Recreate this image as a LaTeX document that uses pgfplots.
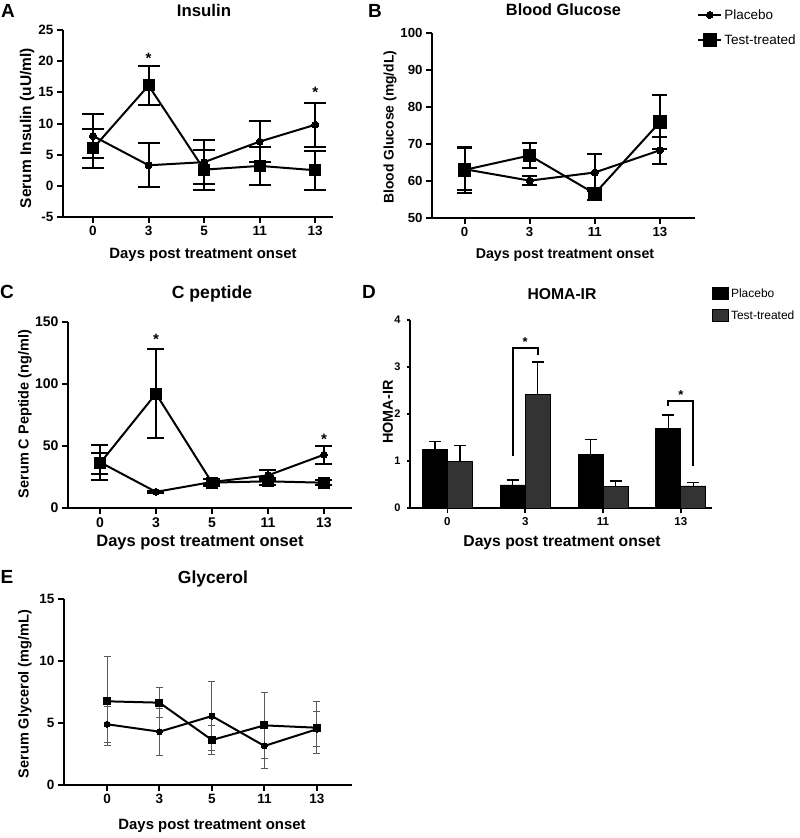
\documentclass[border=0pt]{standalone}
\usepackage{pgfplots}
\pgfplotsset{compat=1.18}
\usepackage{fontspec}
\setmainfont{Liberation Sans}
\newcommand{\fs}[1]{\fontsize{#1}{#1}\selectfont}
\pgfplotsset{
 gp/.style={
   scale only axis, clip=false,
   axis lines*=left,
   axis line style={line width=2pt},
   every tick/.style={line width=2pt, black},
   tick align=outside, major tick length=6pt,
   /pgf/number format/assume math mode=true,
   xtick={0,...,4},
   title style={anchor=center},
   xlabel style={anchor=center},
   ylabel style={anchor=center},
 },
 pl/.style={black, line width=2pt, mark=*, mark size=3.5pt, mark options={solid,fill=black,line width=0pt}},
 ts/.style={black, line width=2pt, mark=square*, mark size=5.5pt, mark options={solid,fill=black,line width=0pt}},
 eb/.style={error bars/.cd, y dir=both, y explicit, error bar style={line width=2pt, black}, error mark options={rotate=90, line width=2pt, black, mark size=#1}},
}
\begin{document}
\begin{tikzpicture}
% ---------------- A: Insulin
\begin{axis}[gp, at={(63pt,-217pt)}, anchor=south west, width=270pt, height=187pt,
 xmin=-0.54, xmax=4.32, ymin=-5, ymax=25, ytick={-5,0,5,10,15,20,25},
 xticklabels={0,3,5,11,13},
 tick label style={font=\fs{13.5}\bfseries},
 title={Insulin}, title style={font=\fs{16.8}\bfseries, at={([xshift=6pt,yshift=14pt]axis description cs:0.5,1)}},
 xlabel={Days post treatment onset}, xlabel style={font=\fs{14.9}\bfseries, at={([xshift=5pt,yshift=-38pt]axis description cs:0.5,0)}},
 ylabel={Serum Insulin (uU/ml)}, ylabel style={font=\fs{15.5}\bfseries, at={([xshift=-36pt,yshift=-4.5pt]axis description cs:0,0.5)}}]
\addplot[pl, eb=11pt] coordinates {(0,8.0) +- (0,3.5) (1,3.3) +- (0,3.5) (2,3.8) +- (0,3.5) (3,7.1) +- (0,3.3) (4,9.8) +- (0,3.5)};
\addplot[ts, eb=11pt] coordinates {(0,6.0) +- (0,3.1) (1,16.1) +- (0,3.1) (2,2.6) +- (0,3.2) (3,3.2) +- (0,3.1) (4,2.5) +- (0,3.1)};
\node[anchor=north, inner sep=0pt, font=\fs{15}\bfseries] at (axis cs:1,21.3) {*};
\node[anchor=north, inner sep=0pt, font=\fs{15}\bfseries] at (axis cs:4,15.9) {*};
\end{axis}
% ---------------- B: Blood glucose
\begin{axis}[gp, at={(432pt,-218pt)}, anchor=south west, width=263pt, height=185pt,
 xmin=-0.5, xmax=3.54, ymin=50, ymax=100, ytick={50,60,70,80,90,100},
 xtick={0,1,2,3}, xticklabels={0,3,11,13},
 tick label style={font=\fs{13.2}\bfseries},
 title={Blood Glucose}, title style={font=\fs{16.3}\bfseries, at={([yshift=17pt]axis description cs:0.5,1)}},
 xlabel={Days post treatment onset}, xlabel style={font=\fs{14.2}\bfseries, at={([xshift=1.5pt,yshift=-37pt]axis description cs:0.5,0)}},
 ylabel={Blood Glucose (mg/dL)}, ylabel style={font=\fs{13.9}\bfseries, at={([xshift=-42pt,yshift=-1.5pt]axis description cs:0,0.5)}},
 legend style={at={(1.008,1.14)}, anchor=north west, draw=none, fill=none, font=\fs{13.5}, inner sep=0pt, row sep=10pt, /tikz/every even column/.append style={column sep=2pt}},
 legend cell align=left,
 legend image code/.code={\draw[mark repeat=2, mark phase=2, #1] plot coordinates {(0pt,0pt) (11.5pt,0pt) (23pt,0pt)};}]
\addplot[pl, eb=7.5pt] coordinates {(0,63.2) +- (0,5.6) (1,60.1) +- (0,1.3) (2,62.3) +- (0,5.1) (3,68.3) +- (0,3.7)};
\addlegendentry{Placebo}
\addplot[ts, mark size=6.3pt, eb=7.5pt] coordinates {(0,63.0) +- (0,6.2) (1,66.9) +- (0,3.4) (2,56.6) +- (0,1.6) (3,75.9) +- (0,7.3)};
\addlegendentry{Test-treated}
\end{axis}
% ---------------- C: C peptide
\begin{axis}[gp, at={(68pt,-508pt)}, anchor=south west, width=284pt, height=186pt,
 xmin=-0.57, xmax=4.5, ymin=0, ymax=150, ytick={0,50,100,150},
 xticklabels={0,3,5,11,13},
 tick label style={font=\fs{14}\bfseries},
 title={C peptide}, title style={font=\fs{17.6}\bfseries, at={([xshift=2pt,yshift=22pt]axis description cs:0.5,1)}},
 xlabel={Days post treatment onset}, xlabel style={font=\fs{16.5}\bfseries, at={([xshift=-10pt,yshift=-35pt]axis description cs:0.5,0)}},
 ylabel={Serum C Peptide (ng/ml)}, ylabel style={font=\fs{14.5}\bfseries, at={([xshift=-43pt,yshift=1pt]axis description cs:0,0.5)}}]
\addplot[pl, eb=8.5pt] coordinates {(0,37) +- (0,14.2) (1,13) +- (0,1) (2,21) +- (0,2) (3,26.3) +- (0,4.1) (4,43) +- (0,7.2)};
\addplot[ts, eb=8.5pt] coordinates {(0,36) +- (0,8.6) (1,92.2) +- (0,35.8) (2,20.5) +- (0,3) (3,21.5) +- (0,3) (4,20.4) +- (0,2)};
\node[anchor=north, inner sep=0pt, font=\fs{15}\bfseries] at (axis cs:1,140.3) {*};
\node[anchor=north, inner sep=0pt, font=\fs{15}\bfseries] at (axis cs:4,59.7) {*};
\end{axis}
% ---------------- D: HOMA-IR
\begin{axis}[gp, at={(410pt,-508pt)}, anchor=south west, width=302pt, height=188pt,
 ybar=0pt, bar width=25pt,
 axis line style={line width=1.6pt},
 xmin=-0.48, xmax=3.40, ymin=0, ymax=4, ytick={0,1,2,3,4},
 xtick={0,1,2,3}, xticklabels={0,3,11,13},
 every tick/.style={line width=1.5pt, black},
 x tick label style={font=\fs{11.5}\bfseries}, y tick label style={font=\fs{11}\bfseries},
 xtick style={/pgfplots/major tick length=5pt}, ytick style={/pgfplots/major tick length=3pt},
 title={HOMA-IR}, title style={font=\fs{15.7}\bfseries, at={([xshift=1pt,yshift=20pt]axis description cs:0.5,1)}},
 xlabel={Days post treatment onset}, xlabel style={font=\fs{15.7}\bfseries, at={([xshift=1pt,yshift=-35pt]axis description cs:0.5,0)}},
 ylabel={HOMA-IR}, ylabel style={font=\fs{14.4}\bfseries, at={([xshift=-22pt,yshift=2pt]axis description cs:0,0.5)}},
 legend style={at={(1.0,1.18)}, anchor=north west, draw=none, fill=none, font=\fs{12}, inner sep=0pt, row sep=8pt, /tikz/every even column/.append style={column sep=2pt}},
 legend cell align=left,
 legend image code/.code={\draw[#1, draw=black, line width=0.8pt] (0pt,-6pt) rectangle (16pt,6pt);}]
\addplot[fill=black, draw=black, line width=0.8pt, error bars/.cd, y dir=plus, y explicit, error bar style={line width=1.5pt, black}, error mark options={rotate=90, line width=1.5pt, black, mark size=6pt}]
 coordinates {(0,1.24) +- (0,0.18) (1,0.49) +- (0,0.11) (2,1.14) +- (0,0.32) (3,1.69) +- (0,0.285)};
\addlegendentry{Placebo}
\addplot[fill=black!80, draw=black, line width=0.8pt, error bars/.cd, y dir=plus, y explicit, error bar style={line width=1.5pt, black}, error mark options={rotate=90, line width=1.5pt, black, mark size=6pt}]
 coordinates {(0,0.99) +- (0,0.345) (1,2.42) +- (0,0.69) (2,0.45) +- (0,0.125) (3,0.47) +- (0,0.07)};
\addlegendentry{Test-treated}
\draw[line width=2pt] ([xshift=-12.5pt]axis cs:1,1.11) -- ([xshift=-12.5pt]axis cs:1,3.41) -- ([xshift=12.5pt]axis cs:1,3.41) -- ([xshift=12.5pt]axis cs:1,3.25);
\draw[line width=2pt] ([xshift=-12.5pt]axis cs:3,2.17) -- ([xshift=-12.5pt]axis cs:3,2.28) -- ([xshift=12.5pt]axis cs:3,2.28) -- ([xshift=12.5pt]axis cs:3,0.9);
\node[anchor=north, inner sep=0pt, font=\fs{13}\bfseries] at (axis cs:1,3.64) {*};
\node[anchor=north, inner sep=0pt, font=\fs{13}\bfseries] at (axis cs:3,2.51) {*};
\end{axis}
% ---------------- E: Glycerol
\begin{axis}[gp, at={(64pt,-785pt)}, anchor=south west, width=288pt, height=186pt,
 xmin=-0.82, xmax=4.67, ymin=0, ymax=15, ytick={0,5,10,15},
 xticklabels={0,3,5,11,13},
 tick label style={font=\fs{13.5}\bfseries},
 title={Glycerol}, title style={font=\fs{17.5}\bfseries, at={([xshift=5pt,yshift=14pt]axis description cs:0.5,1)}},
 xlabel={Days post treatment onset}, xlabel style={font=\fs{14.9}\bfseries, at={([xshift=4pt,yshift=-41pt]axis description cs:0.5,0)}},
 ylabel={Serum Glycerol (mg/mL)}, ylabel style={font=\fs{14.5}\bfseries, at={([xshift=-39pt,yshift=-2pt]axis description cs:0,0.5)}}]
\addplot[pl, mark size=3pt, error bars/.cd, y dir=both, y explicit, error bar style={line width=1pt, black!65}, error mark options={rotate=90, line width=1pt, black!65, mark size=3.5pt}]
 coordinates {(0,4.9) +- (0,1.45) (1,4.3) +- (0,1.9) (2,5.56) +- (0,2.77) (3,3.15) +- (0,1.8) (4,4.5) +- (0,1.4)};
\addplot[ts, mark size=3.5pt, error bars/.cd, y dir=both, y explicit, error bar style={line width=1pt, black!65}, error mark options={rotate=90, line width=1pt, black!65, mark size=3.5pt}]
 coordinates {(0,6.75) +- (0,3.6) (1,6.64) +- (0,1.2) (2,3.63) +- (0,1.15) (3,4.81) +- (0,2.65) (4,4.62) +- (0,2.1)};
\end{axis}
% panel letters
\node[font=\fs{19}\bfseries] at (8pt,-11pt) {A};
\node[font=\fs{19}\bfseries] at (375pt,-11pt) {B};
\node[font=\fs{19}\bfseries] at (7pt,-292pt) {C};
\node[font=\fs{19}\bfseries] at (369pt,-292pt) {D};
\node[font=\fs{19}\bfseries] at (7pt,-577pt) {E};
\pgfresetboundingbox
\path[use as bounding box] (0pt,0pt) rectangle (800pt,-838pt);
\end{tikzpicture}
\end{document}
